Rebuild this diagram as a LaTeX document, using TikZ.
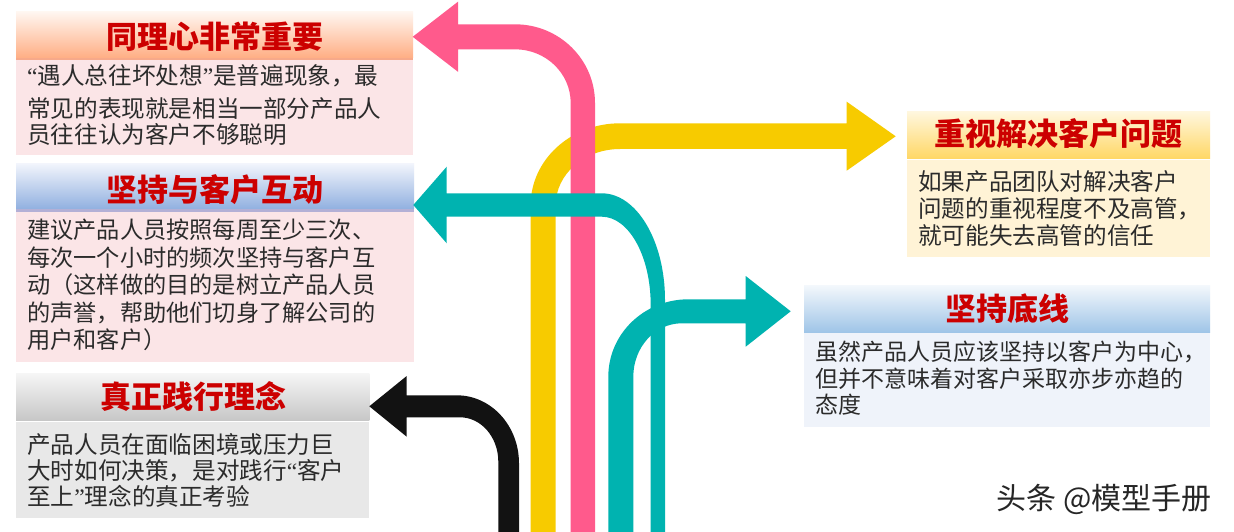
\documentclass[tikz,border=0pt]{standalone}
\usepackage{fontspec}
\setmainfont{Noto Sans CJK SC}
\newfontfamily\qf{Liberation Serif}
\definecolor{pinkarr}{HTML}{FF5A8C}
\definecolor{yelarr}{HTML}{F7CB00}
\definecolor{tealarr}{HTML}{00B3B0}
\definecolor{blackarr}{HTML}{121212}
\definecolor{titlered}{HTML}{CC0000}
\definecolor{bodytxt}{HTML}{2B2B2B}
\definecolor{pinkbody}{HTML}{FBE5E7}
\definecolor{orTop}{HTML}{FFF6F0}
\definecolor{orBot}{HTML}{FFAE84}
\definecolor{orLine}{HTML}{F7A98A}
\definecolor{blTop}{HTML}{F2F5FC}
\definecolor{blBot}{HTML}{92B1E0}
\definecolor{blLine}{HTML}{B3B0D6}
\definecolor{grTop}{HTML}{F6F6F6}
\definecolor{grMid}{HTML}{DADADA}
\definecolor{grBot}{HTML}{C6C6C6}
\definecolor{grBody}{HTML}{E8E8E8}
\definecolor{yeTop}{HTML}{FFF7DE}
\definecolor{yeBot}{HTML}{FFD765}
\definecolor{yeBody}{HTML}{FFF3D6}
\definecolor{skTop}{HTML}{F4F8FC}
\definecolor{skBot}{HTML}{9EC4E7}
\definecolor{skBody}{HTML}{EFF3FA}
\definecolor{wmark}{HTML}{262626}
\begin{document}
\begin{tikzpicture}[x=1pt,y=-1pt,
  titletext/.style={font=\fontsize{31}{31}\selectfont\bfseries, text=titlered, inner sep=0pt, anchor=center},
  bodytext/.style={font=\fontsize{23.6}{26.7}\selectfont, text=bodytxt, align=left, anchor=north west, inner sep=0pt},
  arrowfill/.style={fill=#1, draw=none}]
\useasboundingbox (0,0) rectangle (1234,532);
\fill[white] (0,0) rectangle (1234,532);

% ---------- boxes ----------
% box 1
\shade[top color=orTop, bottom color=orBot] (16,12) rectangle (413,58);
\fill[orLine] (16,58) rectangle (413,60);
\fill[pinkbody] (16,60) rectangle (413,155);
% box 2
\shade[top color=blTop, bottom color=blBot] (16,163.3) rectangle (414,208.5);
\fill[blLine] (16,208.5) rectangle (414,211.7);
\fill[pinkbody] (16,211.7) rectangle (414,361.7);
% box 3
\shade[top color=grTop, middle color=grMid, bottom color=grBot] (16,373.3) rectangle (369.3,420.7);
\fill[grBody] (16,422) rectangle (369,518.3);
% box 4
\shade[top color=yeTop, bottom color=yeBot] (907,111.7) rectangle (1210,158.7);
\fill[yeBody] (907,159.7) rectangle (1210,256.7);
% box 5
\shade[top color=skTop, bottom color=skBot] (804,285) rectangle (1210,332.7);
\fill[skBody] (804,332.7) rectangle (1210,426.7);

% ---------- arrows ----------
% yellow
\fill[arrowfill=yelarr] (530.7,535) -- (530.7,205)
  .. controls (530.7,159.9) and (570.7,123.3) .. (620,123.3)
  -- (846.7,123.3) -- (846.7,101.7) -- (895.7,136.3) -- (846.7,170.7) -- (846.7,149)
  -- (620,149) .. controls (584.5,149) and (555.7,174.1) .. (555.7,205)
  -- (555.7,535) -- cycle;
% pink
\fill[arrowfill=pinkarr] (595,535) -- (595,103)
  .. controls (595,59.4) and (559.2,24.3) .. (515,24.3)
  -- (458,24.3) -- (458,1.7) -- (412.7,36.8) -- (458,71.8) -- (458,49.3)
  -- (515,49.3) .. controls (545.8,49.3) and (570.7,73.3) .. (570.7,103)
  -- (570.7,535) -- cycle;
% teal left
\fill[arrowfill=tealarr] (665,535) -- (665,300)
  .. controls (665,241.1) and (636.7,193.3) .. (601.7,193.3)
  -- (446.7,193.3) -- (446.7,166.7) -- (413.3,205) -- (446.7,243.3) -- (446.7,216.7)
  -- (601.7,216.7) .. controls (628.8,216.7) and (650.7,256.2) .. (650.7,305)
  -- (650.7,535) -- cycle;
% teal right
\fill[arrowfill=tealarr] (608.3,535) -- (608.3,376.7)
  .. controls (608.3,333.9) and (644.1,299.3) .. (688.3,299.3)
  -- (745.7,299.3) -- (745.7,276) -- (790.7,311.3) -- (745.7,346.7) -- (745.7,323.3)
  -- (681.7,323.3) .. controls (655,323.3) and (633.3,347.2) .. (633.3,376.7)
  -- (633.3,535) -- cycle;
% black
\fill[arrowfill=blackarr] (519,535) -- (519,463.3)
  .. controls (519,425.7) and (491.1,395.3) .. (456.7,395.3)
  -- (406.7,395.3) -- (406.7,376) -- (369.3,406.3) -- (406.7,436.7) -- (406.7,417.3)
  -- (460,417.3) .. controls (481.2,417.3) and (498.3,437.2) .. (498.3,461.7)
  -- (498.3,535) -- cycle;

% ---------- titles ----------
\node[titletext] (t1) at (214.5,36.7) {同理心非常重要};
\node[titletext] (t2) at (214.7,190) {坚持与客户互动};
\node[titletext] (t3) at (193,396.7) {真正践行理念};
\node[titletext] (t4) at (1058.7,133.3) {重视解决客户问题};
\node[titletext] (t5) at (1007,308.3) {坚持底线};

% ---------- bodies ----------
\node[bodytext] (b1) at (27,64) {{\qf “}遇人总往坏处想{\qf ”}是普遍现象，最\\[6.3pt]常见的表现就是相当一部分产品人\\员往往认为客户不够聪明};
\node[bodytext, font=\fontsize{23.2}{27.5}\selectfont] (b2) at (27,219) {建议产品人员按照每周至少三次、\\每次一个小时的频次坚持与客户互\\动（这样做的目的是树立产品人员\\的声誉，帮助他们切身了解公司的\\用户和客户）};
\node[bodytext, font=\fontsize{23.6}{26.3}\selectfont] (b3) at (27,433) {产品人员在面临困境或压力巨\\大时如何决策，是对践行{\qf “}客户\\至上{\qf ”}理念的真正考验};
\node[bodytext] (b4) at (918,170.7) {如果产品团队对解决客户\\问题的重视程度不及高管，\\就可能失去高管的信任};
\node[bodytext, font=\fontsize{23}{26.7}\selectfont] (b5) at (815,340.7) {虽然产品人员应该坚持以客户为中心，\\但并不意味着对客户采取亦步亦趋的\\态度};

% ---------- watermark ----------
\node[font=\fontsize{30}{30}\selectfont, text=wmark, inner sep=0pt] (wm) at (1104,499) {头条 @模型手册};
\end{tikzpicture}
\end{document}
